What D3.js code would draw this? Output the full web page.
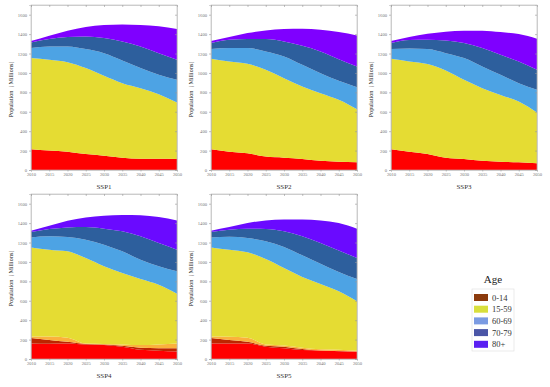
<!DOCTYPE html>
<html>
<head>
<meta charset="utf-8">
<script src="https://cdn.jsdelivr.net/npm/d3@7"></script>
<style>
    body { margin: 0; background: #fff; }
    svg { display: block; font-family: "Liberation Serif", "DejaVu Serif", serif; }
</style>
</head>
<body>
<svg id="chart" width="550" height="387"></svg>
<script>
// Years on the x axis
let years = [2010, 2015, 2020, 2025, 2030, 2035, 2040, 2045, 2050];
let ageGroups = ["0-14", "15-59", "60-69", "70-79", "80+"];
let yTicks = [0, 200, 400, 600, 800, 1000, 1200, 1400, 1600];

// Population by age group (millions), one row per age group
let ssp1 = [
    [213, 200, 189, 165, 148, 127, 117, 117, 114],
    [940, 935, 922, 885, 822, 768, 726, 664, 581],
    [103, 138, 162, 196, 234, 234, 207, 200, 234],
    [58, 76, 97, 130, 155, 196, 223, 223, 206],
    [14, 34, 65, 97, 134, 175, 220, 276, 317]
];
let ssp2 = [
    [213, 189, 172, 138, 127, 114, 96, 86, 79],
    [933, 929, 922, 894, 819, 746, 695, 637, 547],
    [100, 138, 162, 190, 224, 224, 207, 196, 227],
    [62, 86, 93, 127, 155, 196, 224, 223, 214],
    [20, 28, 62, 89, 127, 176, 223, 279, 320]
];
let ssp3 = [
    [213, 189, 165, 127, 114, 96, 86, 79, 69],
    [933, 929, 926, 898, 815, 747, 688, 626, 523],
    [100, 135, 155, 179, 224, 224, 207, 190, 234],
    [62, 86, 96, 131, 155, 189, 206, 223, 206],
    [20, 31, 62, 90, 127, 179, 234, 282, 320]
];
// SSP4 and SSP5: the 0-14 band shows up as three shades in the figure
let ssp4 = [
    [160, 158, 160, 150, 143, 127, 95, 85, 77],
    [57, 37, 17, 5, 7, 10, 22, 27, 33],
    [16, 37, 43, 5, 5, 13, 26, 38, 50],
    [917, 894, 889, 880, 800, 736, 681, 616, 513],
    [103, 138, 148, 189, 223, 223, 199, 189, 230],
    [55, 75, 99, 131, 165, 206, 241, 240, 223],
    [14, 34, 69, 99, 133, 168, 216, 267, 302]
];
let ssp5 = [
    [160, 160, 160, 127, 110, 93, 87, 80, 77],
    [57, 37, 17, 10, 17, 10, 0, 2, 1],
    [16, 33, 43, 13, 13, 14, 13, 13, 7],
    [917, 896, 879, 880, 797, 728, 673, 602, 509],
    [103, 134, 148, 182, 217, 223, 209, 200, 230],
    [55, 72, 95, 127, 161, 196, 213, 222, 216],
    [14, 28, 59, 89, 123, 174, 233, 282, 302]
];

let areaColors = ["#ff0000", "#e5dc33", "#4da3e4", "#2d5f9d", "#7f00ff"];
let splitColors = ["#ff0000", "#bd2500", "#fbb13c", "#e5dc33", "#4da3e4", "#2d5f9d", "#6a0aff"];
let legendColors = ["#8b3a0c", "#d8df3c", "#7b9be2", "#4a55a6", "#5a1ff2"];

let panels = [
    { name: "SSP1", data: ssp1, colors: areaColors, x: 31, y: 5 },
    { name: "SSP2", data: ssp2, colors: areaColors, x: 211, y: 5 },
    { name: "SSP3", data: ssp3, colors: areaColors, x: 391, y: 5 },
    { name: "SSP4", data: ssp4, colors: splitColors, x: 31, y: 194 },
    { name: "SSP5", data: ssp5, colors: splitColors, x: 211, y: 194 }
];

let svg = d3.select("#chart");
let plotW = 146, plotH = 165;

panels.forEach(function (p) {
    let g = svg.append("g").attr("transform", "translate(" + p.x + "," + p.y + ")");

    let xScale = d3.scaleLinear().domain([2010, 2050]).range([0, plotW]);
    let yScale = d3.scaleLinear().domain([0, 1700]).range([plotH, 0]);

    // Build rows {year, s0, s1, ...} for d3.stack
    let keys = p.data.map(function (d, i) { return "s" + i; });
    let rows = years.map(function (yr, j) {
        let row = { year: yr };
        p.data.forEach(function (series, i) { row["s" + i] = series[j]; });
        return row;
    });
    let stacked = d3.stack().keys(keys)(rows);

    let area = d3.area()
        .curve(d3.curveMonotoneX)
        .x(function (d) { return xScale(d.data.year); })
        .y0(function (d) { return yScale(d[0]); })
        .y1(function (d) { return yScale(d[1]); });

    g.selectAll(".layer")
        .data(stacked)
        .enter().append("path")
        .attr("class", "layer")
        .attr("fill", function (d, i) { return p.colors[i]; })
        .attr("d", area);

    // Frame
    g.append("rect")
        .attr("width", plotW)
        .attr("height", plotH)
        .attr("fill", "none")
        .attr("stroke", "#b8b8b8")
        .attr("stroke-width", 0.6);

    let xAxis = g.append("g")
        .attr("transform", "translate(0," + plotH + ")")
        .call(d3.axisBottom(xScale).tickValues(years).tickFormat(d3.format("d")).tickSize(1.5).tickPadding(1.5));
    let yAxis = g.append("g")
        .call(d3.axisLeft(yScale).tickValues(yTicks).tickFormat(d3.format("d")).tickSize(2).tickPadding(2));
    let topTicks = g.append("g")
        .call(d3.axisTop(xScale).tickValues(years).tickSize(-2).tickFormat(""));
    let rightTicks = g.append("g")
        .attr("transform", "translate(" + plotW + ",0)")
        .call(d3.axisRight(yScale).tickValues(yTicks).tickSize(-2).tickFormat(""));

    [xAxis, yAxis, topTicks, rightTicks].forEach(function (a) {
        a.select(".domain").attr("stroke", "#b8b8b8").attr("stroke-width", 0.6);
        a.selectAll(".tick line").attr("stroke", "#999").attr("stroke-width", 0.6);
        a.selectAll(".tick text")
            .attr("fill", "#777")
            .style("font-family", "'Liberation Serif', serif")
            .style("font-size", "4.6px");
    });

    // Y label
    g.append("text")
        .attr("transform", "translate(-18," + (plotH / 2) + ") rotate(-90)")
        .attr("text-anchor", "middle")
        .attr("fill", "#222")
        .style("font-size", "6.2px")
        .text("Population（Millions）");

    // Panel name
    g.append("text")
        .attr("x", plotW / 2)
        .attr("y", plotH + 19)
        .attr("text-anchor", "middle")
        .attr("fill", "#333")
        .style("font-size", "7px")
        .text(p.name);
});

// Legend
let legend = svg.append("g").attr("transform", "translate(472,289)");
svg.append("text")
    .attr("x", 493)
    .attr("y", 283)
    .attr("text-anchor", "middle")
    .attr("fill", "#222")
    .style("font-size", "11px")
    .text("Age");
legend.append("rect")
    .attr("width", 42)
    .attr("height", 62)
    .attr("fill", "none")
    .attr("stroke", "#ddd")
    .attr("stroke-width", 0.6);
let items = legend.selectAll(".item")
    .data(ageGroups)
    .enter().append("g")
    .attr("class", "item")
    .attr("transform", function (d, i) { return "translate(2," + (5 + i * 11.7) + ")"; });
items.append("rect")
    .attr("width", 14)
    .attr("height", 7)
    .attr("fill", function (d, i) { return legendColors[i]; });
items.append("text")
    .attr("x", 18)
    .attr("y", 6.5)
    .attr("fill", "#333")
    .style("font-size", "8.5px")
    .text(function (d) { return d; });
</script>
</body>
</html>
